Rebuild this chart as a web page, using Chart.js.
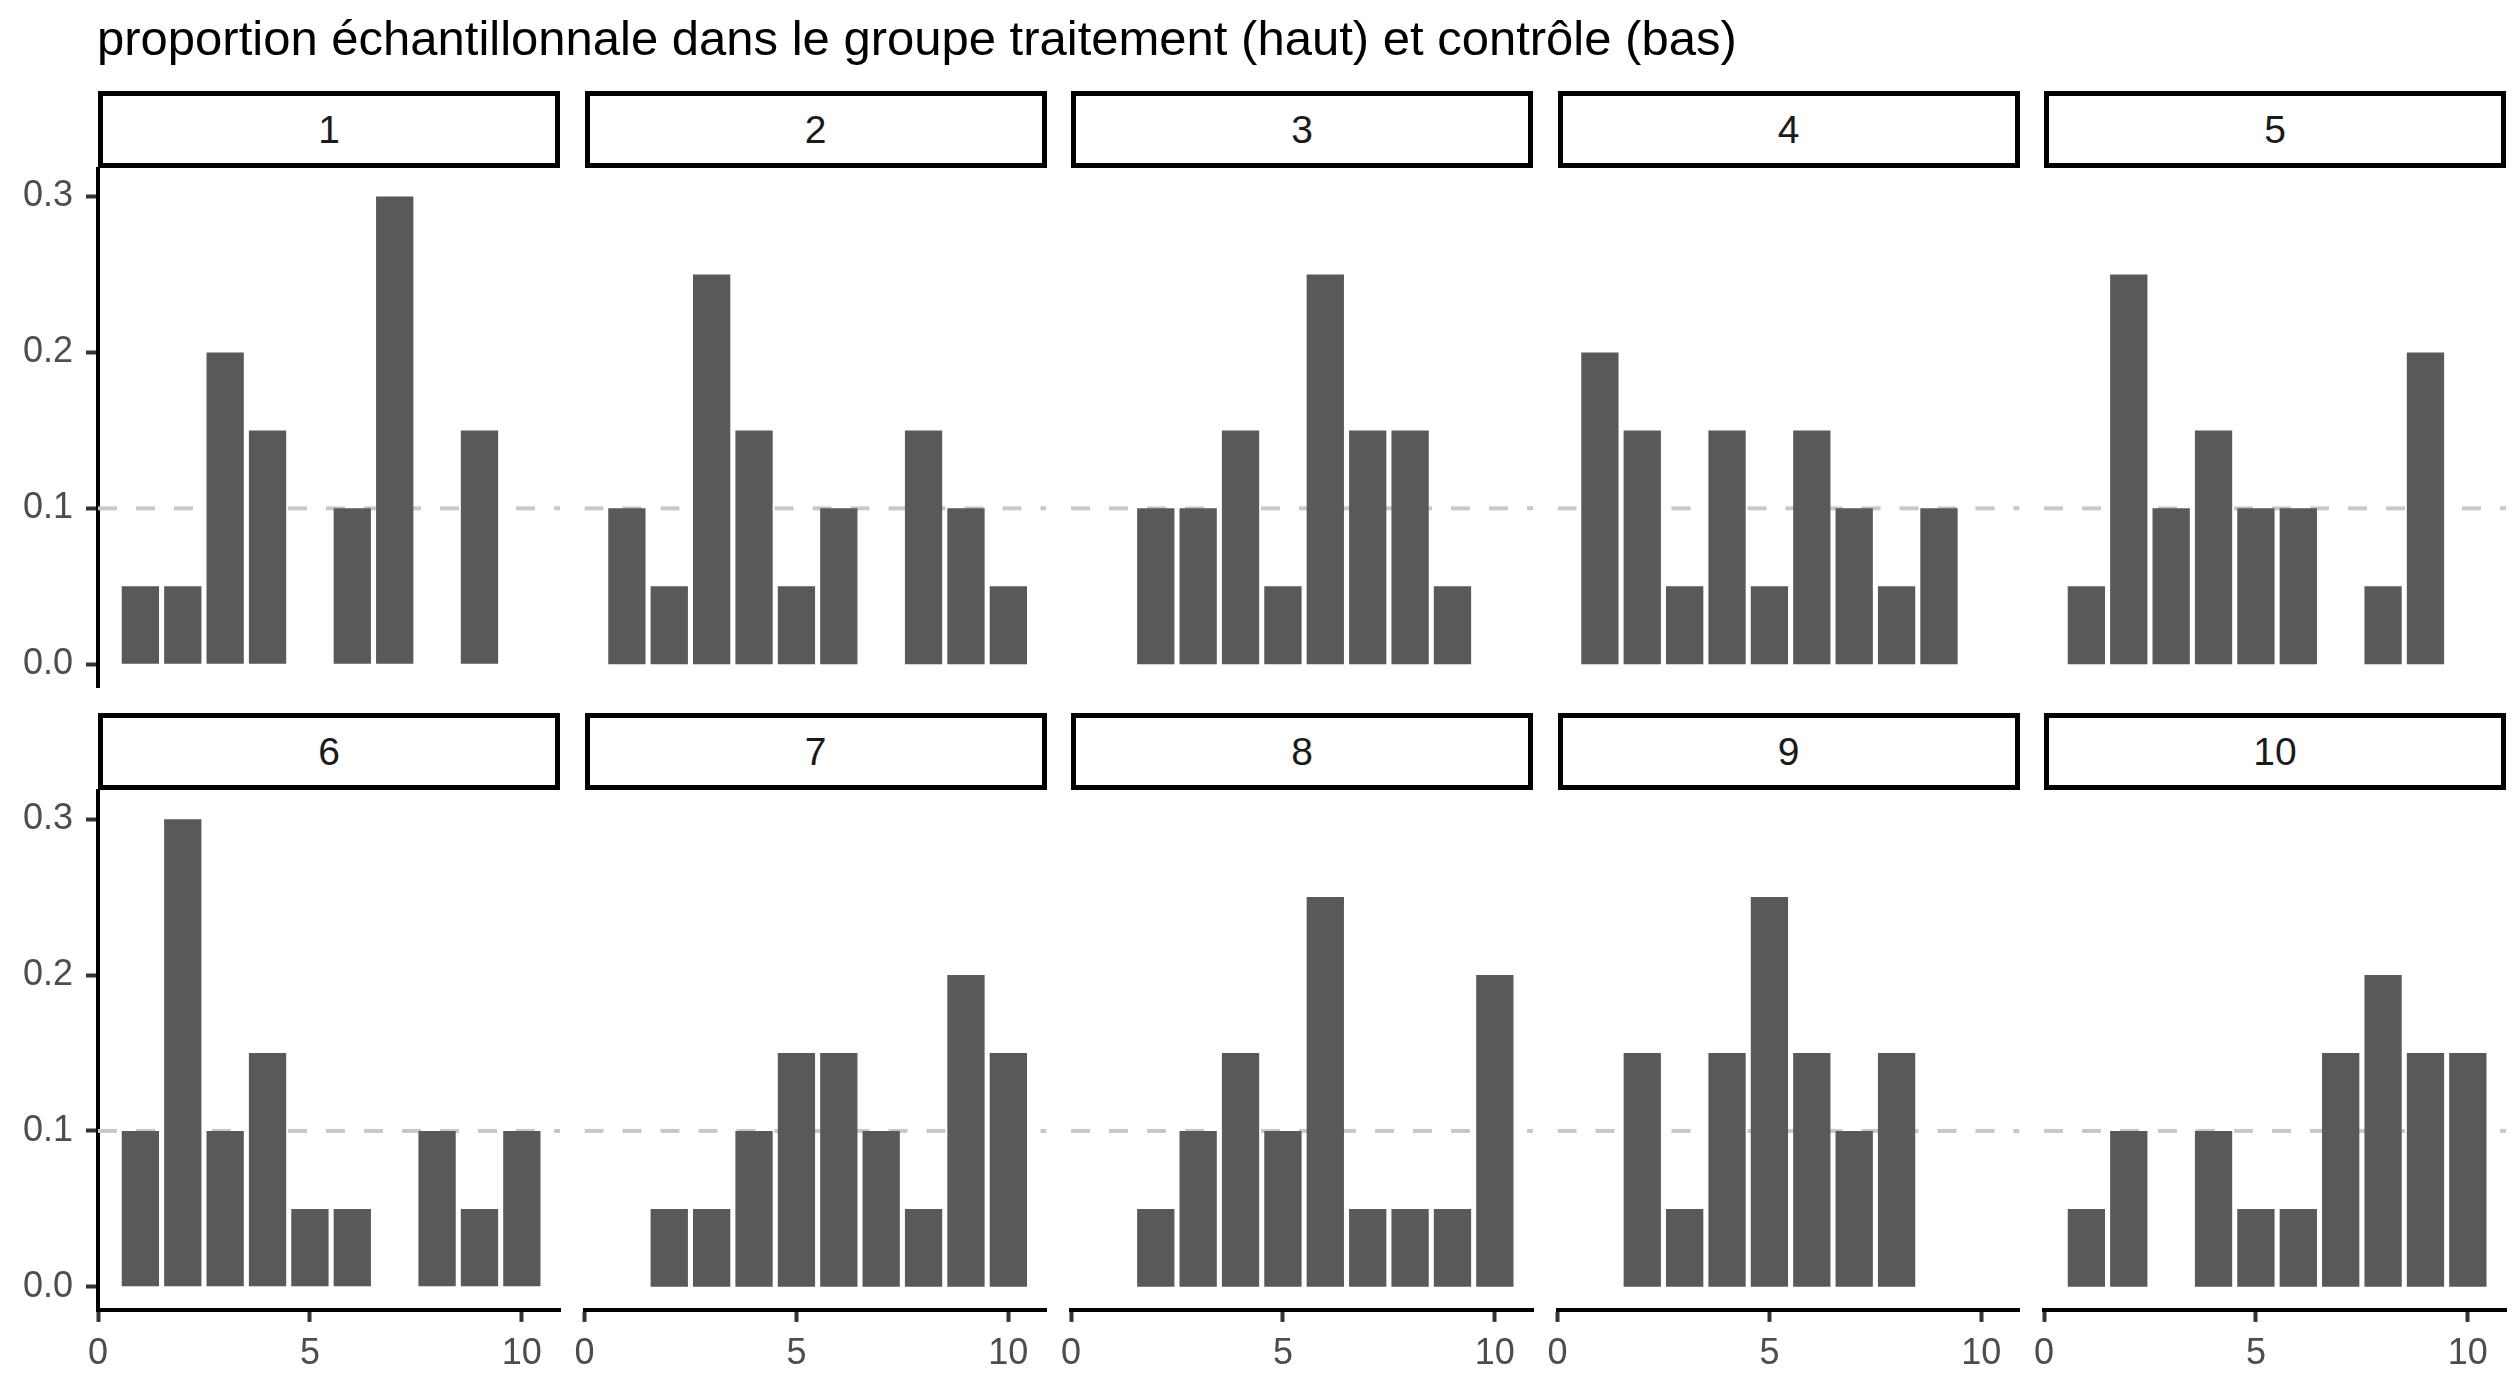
<!DOCTYPE html>
<html>
<head>
<meta charset="utf-8">
<script src="https://cdn.jsdelivr.net/npm/chart.js@4.4.1/dist/chart.umd.min.js"></script>
<style>
  body { margin: 0; background: #fff; width: 2518px; height: 1378px; overflow: hidden; position: relative;
         font-family: "Liberation Sans", Arial, sans-serif; }
  #title { position: absolute; left: 97px; top: 13.5px; font-size: 49px; line-height: 49px; white-space: nowrap; color: #000; }
  .strip { position: absolute; box-sizing: border-box; border: 5px solid #000; background: #fff;
           width: 462px; height: 77px; display: flex; align-items: center; justify-content: center;
           font-size: 39px; color: #1a1a1a; }
  canvas { position: absolute; left: 0; top: 0; }
</style>
</head>
<body>
<div id="title">proportion échantillonnale dans le groupe traitement (haut) et contrôle (bas)</div>
<script>
// facet labels and x values (1..10)
const panelLabels = ["1", "2", "3", "4", "5", "6", "7", "8", "9", "10"];
const xValues = [1, 2, 3, 4, 5, 6, 7, 8, 9, 10];

// sample proportions per panel
const panel1  = [0.05, 0.05, 0.20, 0.15, 0,    0.10, 0.30, 0,    0.15, 0];
const panel2  = [0.10, 0.05, 0.25, 0.15, 0.05, 0.10, 0,    0.15, 0.10, 0.05];
const panel3  = [0,    0.10, 0.10, 0.15, 0.05, 0.25, 0.15, 0.15, 0.05, 0];
const panel4  = [0.20, 0.15, 0.05, 0.15, 0.05, 0.15, 0.10, 0.05, 0.10, 0];
const panel5  = [0.05, 0.25, 0.10, 0.15, 0.10, 0.10, 0,    0.05, 0.20, 0];
const panel6  = [0.10, 0.30, 0.10, 0.15, 0.05, 0.05, 0,    0.10, 0.05, 0.10];
const panel7  = [0,    0.05, 0.05, 0.10, 0.15, 0.15, 0.10, 0.05, 0.20, 0.15];
const panel8  = [0,    0.05, 0.10, 0.15, 0.10, 0.25, 0.05, 0.05, 0.05, 0.20];
const panel9  = [0,    0.15, 0.05, 0.15, 0.25, 0.15, 0.10, 0.15, 0,    0];
const panel10 = [0.05, 0.10, 0,    0.10, 0.05, 0.05, 0.15, 0.20, 0.15, 0.15];

const yTicks = [0, 0.1, 0.2, 0.3];
const xTicks = [0, 5, 10];
const refLine = 0.1;

const panels = [panel1, panel2, panel3, panel4, panel5, panel6, panel7, panel8, panel9, panel10];

// page geometry
const W = 2518, H = 1378;
const panelW = 462;
const colLeft = [0, 1, 2, 3, 4].map(c => 98 + c * 486.5);
const rowTop = [90.7, 713.3];
const stripH = 77.8;
const plotH = 518.8;

// dashed horizontal reference line, drawn under the bars
const refLinePlugin = {
  id: "refLine",
  beforeDatasetsDraw(chart) {
    const { ctx, chartArea, scales } = chart;
    const y = scales.y.getPixelForValue(refLine);
    ctx.save();
    ctx.beginPath();
    ctx.rect(chartArea.left, chartArea.top, chartArea.right - chartArea.left, chartArea.bottom - chartArea.top);
    ctx.clip();
    ctx.setLineDash([19, 19]);
    ctx.lineWidth = 4;
    ctx.strokeStyle = "#c8c8c8";
    ctx.beginPath();
    ctx.moveTo(chartArea.left, y);
    ctx.lineTo(chartArea.right, y);
    ctx.stroke();
    ctx.restore();
  }
};

const tickFont = { family: "Liberation Sans", size: 36 };

panels.forEach((vals, i) => {
  const r = Math.floor(i / 5), c = i % 5;
  const left = colLeft[c];
  const top = rowTop[r];
  const firstCol = c === 0;
  const bottomRow = r === 1;
  const areaTop = top + stripH;
  const areaBottom = areaTop + plotH;

  const strip = document.createElement("div");
  strip.className = "strip";
  strip.style.left = left + "px";
  strip.style.top = Math.round(top) + "px";
  strip.textContent = panelLabels[i];
  document.body.appendChild(strip);

  const cv = document.createElement("canvas");
  cv.width = W;
  cv.height = H;
  document.body.appendChild(cv);

  const xScale = {
    type: "linear",
    min: 0,
    max: 10.9,
    offset: false,
    display: bottomRow,
    afterBuildTicks: s => { s.ticks = xTicks.map(v => ({ value: v })); },
    grid: { offset: false, drawOnChartArea: false, drawTicks: true, tickLength: 12, tickWidth: 4, tickColor: "#333333" },
    border: { display: true, color: "#000", width: 4 },
    ticks: { padding: 11, color: "#4d4d4d", font: tickFont, maxRotation: 0, autoSkip: false,
             callback: v => String(v) }
  };
  if (bottomRow) xScale.afterFit = s => { s.height = H - areaBottom; };

  const yScale = {
    type: "linear",
    min: -0.0148,
    max: 0.318,
    display: firstCol,
    z: 1,
    afterBuildTicks: s => { s.ticks = yTicks.map(v => ({ value: v })); },
    grid: { drawOnChartArea: false, drawTicks: true, tickLength: 12, tickWidth: 4, tickColor: "#333333" },
    border: { display: true, color: "#000", width: 4 },
    ticks: { padding: 13, color: "#4d4d4d", font: tickFont, callback: v => v.toFixed(1) }
  };
  if (firstCol) yScale.afterFit = s => { s.width = left; };

  new Chart(cv, {
    type: "bar",
    data: {
      datasets: [{
        data: xValues.map((x, k) => ({ x: x, y: vals[k] })),
        backgroundColor: "#595959",
        borderWidth: 0,
        barPercentage: 0.88,
        categoryPercentage: 1
      }]
    },
    options: {
      responsive: false,
      animation: false,
      events: [],
      layout: {
        padding: {
          left: firstCol ? 0 : left,
          right: W - (left + panelW),
          top: areaTop,
          bottom: bottomRow ? 0 : H - areaBottom
        }
      },
      plugins: { legend: { display: false }, tooltip: { enabled: false } },
      scales: { x: xScale, y: yScale }
    },
    plugins: [refLinePlugin]
  });
});
</script>
</body>
</html>
